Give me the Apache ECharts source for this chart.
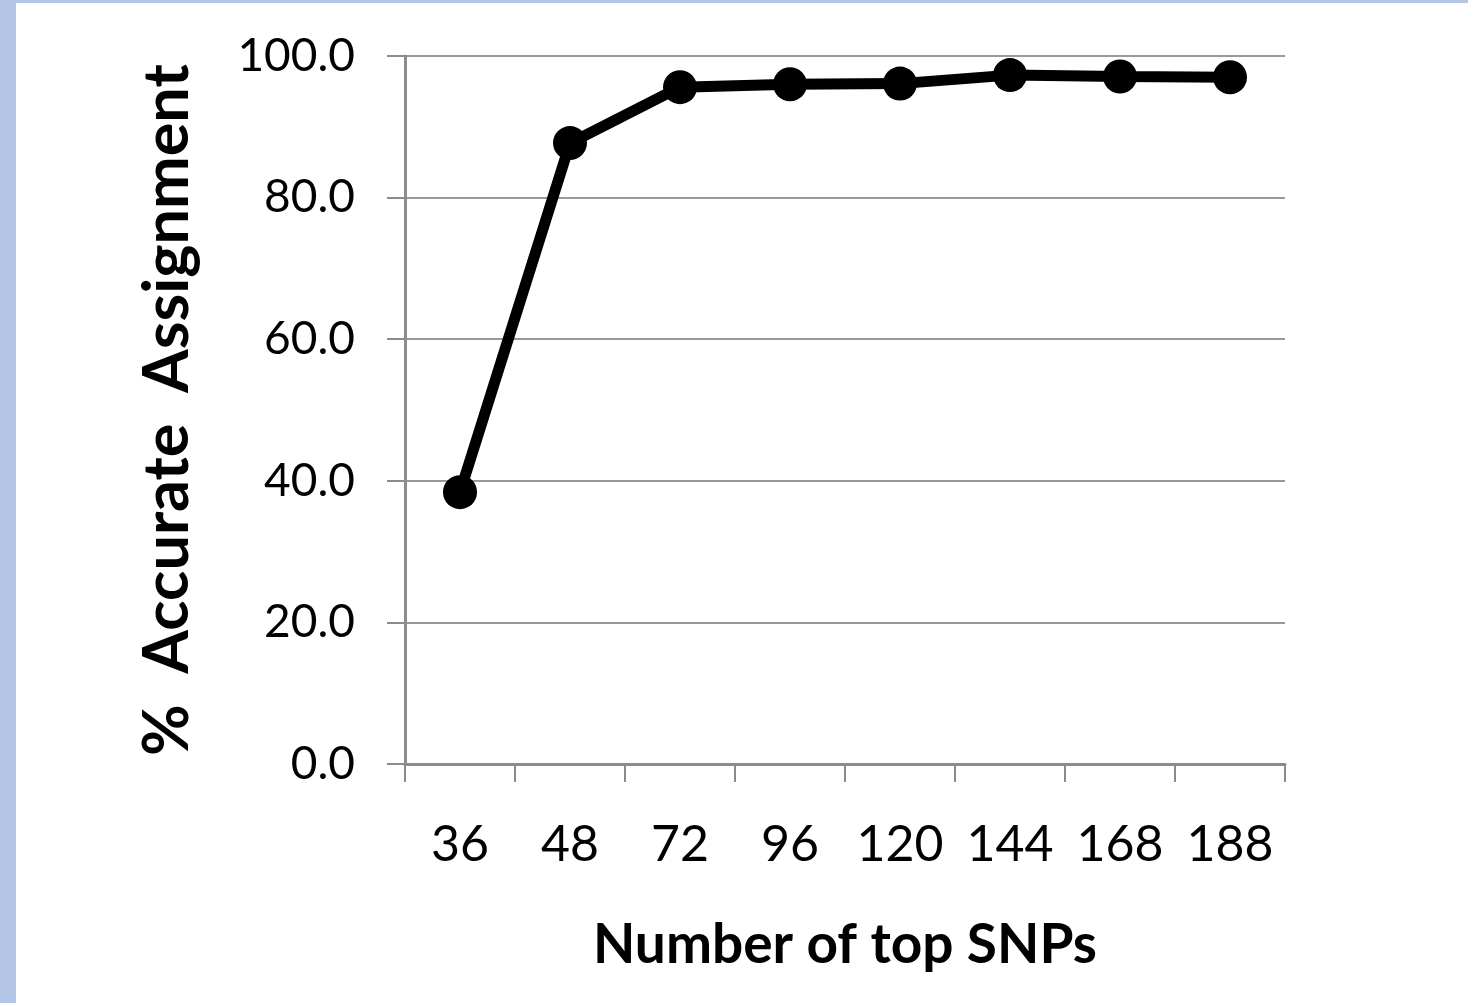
<!DOCTYPE html>
<html>
<head>
<meta charset="utf-8">
<script src="https://cdn.jsdelivr.net/npm/echarts@6/dist/echarts.min.js"></script>
<style>
html,body{margin:0;padding:0;width:1468px;height:1003px;background:#b4c7e7;overflow:hidden;}
#chart{position:absolute;left:16px;top:3px;width:1452px;height:1000px;background:#fff;}
</style>
</head>
<body>
<div id="chart"></div>
<script>
const categories = ['36','48','72','96','120','144','168','188'];
const accuracy = [38.4, 87.7, 95.6, 96.0, 96.1, 97.3, 97.1, 97.0];
const yTicks = [0, 20, 40, 60, 80, 100];

const chart = echarts.init(document.getElementById('chart'), null, {renderer:'canvas'});
const font = 'Lato, "Open Sans", sans-serif';
chart.setOption({
  animation:false,
  backgroundColor:'#fff',
  grid:{left:389, right:183, top:53, bottom:239, containLabel:false},
  xAxis:{
    type:'category',
    data:categories,
    boundaryGap:true,
    name:'Number of top SNPs',
    nameLocation:'middle',
    nameGap:154,
    nameTextStyle:{fontFamily:font, fontSize:55, fontWeight:'bold', color:'#000'},
    axisLine:{lineStyle:{color:'#8c8c8c', width:3}},
    axisTick:{show:true, length:18, alignWithLabel:false, lineStyle:{color:'#8c8c8c', width:2}},
    axisLabel:{fontFamily:font, fontSize:50, color:'#000', margin:56, interval:0}
  },
  yAxis:{
    type:'value',
    min:0, max:100, interval:20,
    name:'%  Accurate  Assignment',
    nameLocation:'middle',
    nameGap:206,
    nameRotate:90,
    nameTextStyle:{fontFamily:font, fontSize:63, fontWeight:'bold', color:'#000'},
    axisLine:{show:true, lineStyle:{color:'#8c8c8c', width:3}},
    axisTick:{show:true, length:18, lineStyle:{color:'#8c8c8c', width:2}},
    splitLine:{show:true, lineStyle:{color:'#999', width:2}},
    axisLabel:{fontFamily:font, fontSize:46, color:'#000', margin:50,
      formatter:function(v){ return yTicks.indexOf(v) >= 0 ? v.toFixed(1) : ''; }}
  },
  series:[{
    type:'line',
    data:accuracy,
    symbol:'circle',
    symbolSize:34,
    lineStyle:{color:'#000', width:11},
    itemStyle:{color:'#000'}
  }]
});
</script>
</body>
</html>
